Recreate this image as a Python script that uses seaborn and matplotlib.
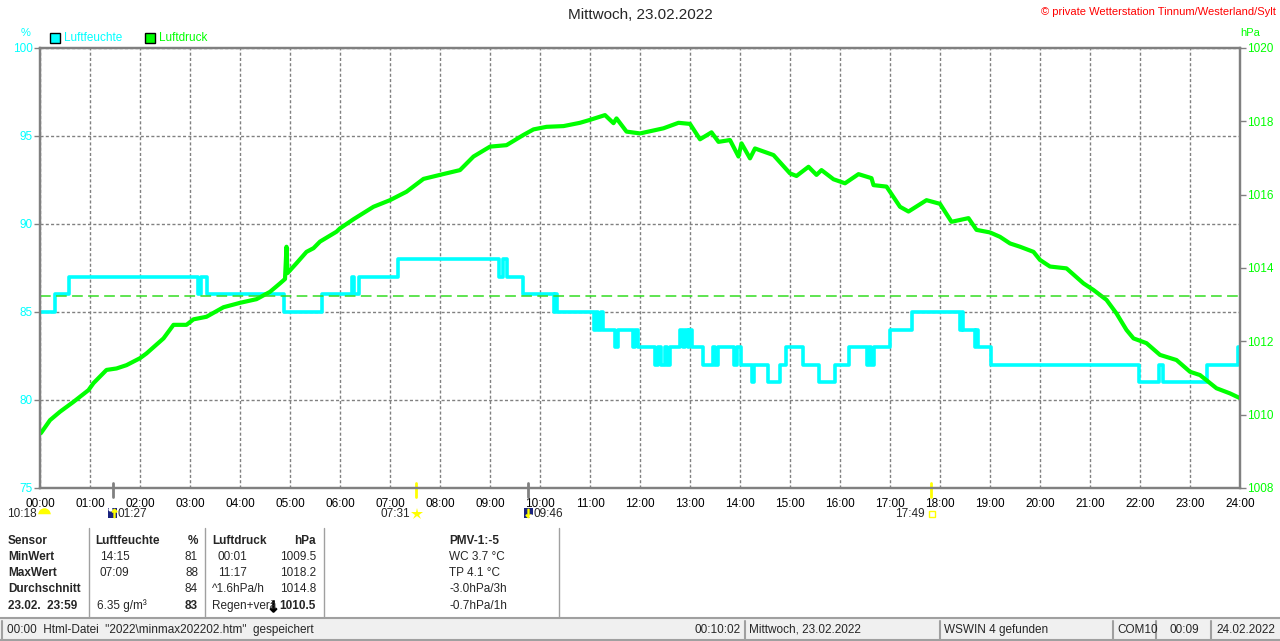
import pandas as pd
import seaborn as sns
import matplotlib.pyplot as plt
import matplotlib.transforms as mtransforms
from matplotlib.patches import Rectangle
from matplotlib.lines import Line2D

# Luftfeuchte (%) - Stufenwerte, Zeit in Stunden
hum_time = [0.00, 0.29, 0.57, 3.16, 3.22, 3.33, 4.88, 5.63, 6.23, 6.28, 6.37, 7.15,
            9.18, 9.25, 9.33, 9.65, 10.27, 10.30, 10.34, 11.07, 11.12, 11.16, 11.22,
            11.26, 11.50, 11.55, 11.85, 11.90, 11.96, 12.30, 12.36, 12.41, 12.50,
            12.53, 12.60, 12.80, 12.85, 12.90, 12.95, 12.98, 13.03, 13.25, 13.45,
            13.50, 13.56, 13.87, 13.93, 14.01, 14.23, 14.27, 14.55, 14.80, 14.91,
            15.25, 15.57, 15.90, 16.17, 16.53, 16.58, 16.62, 16.67, 17.00, 17.43,
            18.40, 18.43, 18.46, 18.70, 18.72, 18.76, 19.02, 21.98, 22.37, 22.45,
            23.34, 23.96, 24.00]
hum_val = [85, 86, 87, 86, 87, 86, 85, 86, 87, 86, 87, 88,
           87, 88, 87, 86, 85, 86, 85, 84, 85, 84, 85,
           84, 83, 84, 83, 84, 83, 82, 83, 82, 83,
           82, 83, 84, 83, 84, 83, 84, 83, 82, 83,
           82, 83, 82, 83, 82, 81, 82, 81, 82, 83,
           82, 81, 82, 83, 82, 83, 82, 83, 84, 85,
           84, 85, 84, 83, 84, 83, 82, 81, 82, 81,
           82, 83, 83]

# Luftdruck (hPa)
pres_time = [0.00, 0.02, 0.20, 0.40, 0.67, 0.97, 1.07, 1.33, 1.53, 1.73, 2.00, 2.13,
             2.47, 2.67, 2.93, 3.07, 3.33, 3.67, 4.00, 4.33, 4.60, 4.80, 4.90, 4.93,
             4.95, 5.13, 5.33, 5.47, 5.60, 5.93, 6.00, 6.27, 6.67, 7.00, 7.33, 7.67,
             8.00, 8.40, 8.67, 9.00, 9.33, 9.67, 9.87, 10.13, 10.47, 10.80, 11.00,
             11.30, 11.47, 11.53, 11.73, 12.00, 12.47, 12.77, 13.00, 13.20, 13.43,
             13.57, 13.80, 13.97, 14.03, 14.20, 14.30, 14.67, 15.00, 15.13, 15.37,
             15.53, 15.63, 15.87, 16.10, 16.37, 16.63, 16.67, 16.93, 17.20, 17.37,
             17.73, 18.00, 18.23, 18.57, 18.73, 19.00, 19.20, 19.40, 19.60, 19.87,
             20.00, 20.20, 20.53, 20.87, 21.07, 21.33, 21.53, 21.73, 21.87, 22.13,
             22.40, 22.73, 23.00, 23.20, 23.53, 23.80, 24.00]
pres_val = [1009.55, 1009.50, 1009.85, 1010.08, 1010.35, 1010.67, 1010.86, 1011.22,
            1011.26, 1011.35, 1011.54, 1011.67, 1012.08, 1012.45, 1012.45, 1012.60,
            1012.67, 1012.93, 1013.05, 1013.15, 1013.35, 1013.58, 1013.70, 1014.58,
            1013.86, 1014.13, 1014.44, 1014.54, 1014.72, 1014.99, 1015.08, 1015.33,
            1015.67, 1015.85, 1016.08, 1016.43, 1016.54, 1016.67, 1017.04, 1017.31,
            1017.35, 1017.63, 1017.78, 1017.85, 1017.87, 1017.96, 1018.04, 1018.17,
            1017.95, 1018.08, 1017.72, 1017.67, 1017.81, 1017.96, 1017.93, 1017.51,
            1017.70, 1017.44, 1017.49, 1017.04, 1017.40, 1016.99, 1017.26, 1017.08,
            1016.58, 1016.51, 1016.76, 1016.54, 1016.67, 1016.42, 1016.31, 1016.56,
            1016.45, 1016.26, 1016.22, 1015.67, 1015.54, 1015.85, 1015.75, 1015.26,
            1015.36, 1015.04, 1014.97, 1014.85, 1014.67, 1014.58, 1014.44, 1014.22,
            1014.04, 1013.99, 1013.58, 1013.40, 1013.13, 1012.76, 1012.31, 1012.08,
            1011.95, 1011.63, 1011.49, 1011.17, 1011.08, 1010.72, 1010.58, 1010.45]

norm_druck = 1013.25

# Mond / Sonne Auf- und Untergang (Stunden)
event_time = [1.45, 7.517, 9.767, 17.817]
event_color = ['#808080', '#ffff00', '#808080', '#ffff00']

hour_ticks = list(range(0, 25))
hour_labels = ['%02d:00' % h for h in hour_ticks]
hum_ticks = [75, 80, 85, 90, 95, 100]
pres_ticks = [1008, 1010, 1012, 1014, 1016, 1018, 1020]

CYAN = '#00ffff'
GREEN = '#00ff00'
GRAU = '#808080'

W, H = 1280, 641


def fx(x):
    return x / W


def fy(y):
    return 1 - y / H


sns.set_style('white')
plt.rcParams['font.family'] = ['Liberation Sans', 'DejaVu Sans']

fig = plt.figure(figsize=(12.8, 6.41), dpi=100)
ax = fig.add_axes([fx(40), fy(488), 1200 / W, 440 / H])
ax2 = ax.twinx()

df_h = pd.DataFrame({'Zeit': hum_time, 'Luftfeuchte': hum_val})
df_p = pd.DataFrame({'Zeit': pres_time, 'Luftdruck': pres_val})

sns.lineplot(data=df_h, x='Zeit', y='Luftfeuchte', ax=ax, color=CYAN,
             linewidth=2.6, drawstyle='steps-post', estimator=None)
sns.lineplot(data=df_p, x='Zeit', y='Luftdruck', ax=ax2, color=GREEN,
             linewidth=3.0, estimator=None)
ax2.axhline(norm_druck, color='#33dd22', lw=1.1, dashes=(7, 3.5))

ax.set_xlim(0, 24)
ax.set_ylim(75, 100)
ax2.set_ylim(1008, 1020)
ax.set_xticks(hour_ticks)
ax.set_xticklabels(hour_labels)
ax.set_yticks(hum_ticks)
ax.set_yticklabels([str(v) for v in hum_ticks])
ax2.set_yticks(pres_ticks)
ax2.set_yticklabels([str(v) for v in pres_ticks])
ax.set_xlabel('')
ax.set_ylabel('')
ax2.set_ylabel('')

ax.grid(True, color=GRAU, linestyle=(0, (2.2, 1.6)), linewidth=1)
ax2.grid(False)
ax.tick_params(axis='x', length=4, width=1, color=GRAU, labelsize=8.5, pad=3,
               labelcolor='black')
ax.tick_params(axis='y', length=4, width=1, color=GRAU, labelsize=8.5, pad=1,
               labelcolor=CYAN)
ax2.tick_params(axis='y', length=4, width=1, color=GRAU, labelsize=8.5, pad=1,
                labelcolor=GREEN)
for a in (ax, ax2):
    for s in a.spines.values():
        s.set_color(GRAU)
        s.set_linewidth(1.6)

# Markierungen auf der Zeitachse
trans = mtransforms.blended_transform_factory(ax.transData, ax.transAxes)
for t, c in zip(event_time, event_color):
    ax.plot([t, t], [0.012, -0.02], color=c, lw=2, transform=trans, clip_on=False)

# Beschriftungen oben
fig.text(0.5, fy(15), 'Mittwoch, 23.02.2022', ha='center', va='center', fontsize=11)
fig.text(fx(1276), fy(12), '\u00a9 private Wetterstation Tinnum/Westerland/Sylt',
         ha='right', va='center', fontsize=8, color='red')
fig.text(fx(26), fy(33), '%', ha='center', va='center', fontsize=8, color=CYAN)
fig.text(fx(1250), fy(33), 'hPa', ha='center', va='center', fontsize=8, color=GREEN)

# Legende
for x0, col, lab in [(50, CYAN, 'Luftfeuchte'), (145, GREEN, 'Luftdruck')]:
    fig.add_artist(Rectangle((fx(x0), fy(43)), 10 / W, 10 / H, facecolor=col,
                             edgecolor='black', lw=1, transform=fig.transFigure))
    fig.text(fx(x0 + 14), fy(38), lab, ha='left', va='center', fontsize=8.5, color=col)

# Sonne / Mond unter der Achse
fig.text(fx(37), fy(514), '10:18', ha='right', va='center', fontsize=8.5)
fig.add_artist(Line2D([fx(44)], [fy(514)], marker='o', markersize=9,
                      fillstyle='top', markerfacecolor='#ffff00',
                      markerfacecoloralt='white', markeredgewidth=0, lw=0,
                      transform=fig.transFigure))
fig.text(fx(118), fy(514), '01:27', ha='left', va='center', fontsize=8.5)
fig.add_artist(Rectangle((fx(108), fy(518)), 9 / W, 10 / H, facecolor='#1a237e',
                         edgecolor='none', transform=fig.transFigure))
fig.add_artist(Line2D([fx(113.5)], [fy(513)], marker=r'$\uparrow$', markersize=6,
                      color='#ffff00', lw=0, transform=fig.transFigure))
fig.add_artist(Line2D([fx(110)], [fy(509)], marker='o', markersize=3,
                      color='white', markeredgewidth=0, lw=0,
                      transform=fig.transFigure))
fig.text(fx(410), fy(514), '07:31', ha='right', va='center', fontsize=8.5)
fig.add_artist(Line2D([fx(417)], [fy(514)], marker='*', markersize=9,
                      color='#ffff00', markeredgewidth=0, lw=0,
                      transform=fig.transFigure))
fig.add_artist(Rectangle((fx(524), fy(518)), 9 / W, 10 / H, facecolor='#1a237e',
                         edgecolor='none', transform=fig.transFigure))
fig.add_artist(Line2D([fx(528)], [fy(513)], marker=r'$\downarrow$', markersize=6,
                      color='#ffff00', lw=0, transform=fig.transFigure))
fig.add_artist(Line2D([fx(531)], [fy(516)], marker='o', markersize=3,
                      color='white', markeredgewidth=0, lw=0,
                      transform=fig.transFigure))
fig.text(fx(534), fy(514), '09:46', ha='left', va='center', fontsize=8.5)
fig.text(fx(925), fy(514), '17:49', ha='right', va='center', fontsize=8.5)
fig.add_artist(Line2D([fx(932)], [fy(514)], marker='s', markersize=5,
                      fillstyle='none', color='#ffff00', lw=0,
                      transform=fig.transFigure))

# Tabelle unten
rows_y = [541, 557, 573, 589, 606]
col1 = ['Sensor', 'MinWert', 'MaxWert', 'Durchschnitt', '23.02.  23:59']
for y, s in zip(rows_y, col1):
    fig.text(fx(8), fy(y), s, ha='left', va='center', fontsize=8.5, weight='bold')

fig.text(fx(95), fy(rows_y[0]), 'Luftfeuchte', ha='left', va='center',
         fontsize=8.5, weight='bold')
fig.text(fx(100), fy(rows_y[1]), '14:15', ha='left', va='center', fontsize=8.5)
fig.text(fx(100), fy(rows_y[2]), '07:09', ha='left', va='center', fontsize=8.5)
fig.text(fx(97), fy(rows_y[4]), '6.35 g/m\u00b3', ha='left', va='center', fontsize=8.5)
col3 = ['%', '81', '88', '84', '83']
for i, (y, s) in enumerate(zip(rows_y, col3)):
    fig.text(fx(198), fy(y), s, ha='right', va='center', fontsize=8.5,
             weight='bold' if i in (0, 4) else 'normal')

fig.text(fx(212), fy(rows_y[0]), 'Luftdruck', ha='left', va='center',
         fontsize=8.5, weight='bold')
fig.text(fx(218), fy(rows_y[1]), '00:01', ha='left', va='center', fontsize=8.5)
fig.text(fx(218), fy(rows_y[2]), '11:17', ha='left', va='center', fontsize=8.5)
fig.text(fx(212), fy(rows_y[3]), '^1.6hPa/h', ha='left', va='center', fontsize=8.5)
fig.text(fx(212), fy(rows_y[4]), 'Regen+ver\u00e4', ha='left', va='center', fontsize=8.5)
fig.add_artist(Line2D([fx(273)], [fy(606)], marker=r'$\downarrow$', markersize=8,
                      color='black', lw=0, transform=fig.transFigure))
col5 = ['hPa', '1009.5', '1018.2', '1014.8', '1010.5']
for i, (y, s) in enumerate(zip(rows_y, col5)):
    fig.text(fx(316), fy(y), s, ha='right', va='center', fontsize=8.5,
             weight='bold' if i in (0, 4) else 'normal')

col6 = ['PMV-1:-5', 'WC 3.7 \u00b0C', 'TP 4.1 \u00b0C', '-3.0hPa/3h', '-0.7hPa/1h']
for i, (y, s) in enumerate(zip(rows_y, col6)):
    fig.text(fx(449), fy(y), s, ha='left', va='center', fontsize=8.5,
             weight='bold' if i == 0 else 'normal')

for x in [89, 205, 324, 559]:
    fig.add_artist(Line2D([fx(x), fx(x)], [fy(528), fy(617)], color='#a0a0a0',
                          lw=1, transform=fig.transFigure))

# Statusleiste
fig.add_artist(Rectangle((0, 0), 1, fy(619), facecolor='#f0f0f0', edgecolor='none',
                         transform=fig.transFigure))
fig.add_artist(Line2D([0, 1], [fy(618), fy(618)], color='#a0a0a0', lw=1.5,
                      transform=fig.transFigure))
fig.add_artist(Line2D([0, 1], [fy(640), fy(640)], color='#a0a0a0', lw=1.5,
                      transform=fig.transFigure))
for x in [2, 745, 940, 1113, 1156, 1211]:
    fig.add_artist(Line2D([fx(x), fx(x)], [fy(621), fy(639)], color='#a0a0a0',
                          lw=1.5, transform=fig.transFigure))
fig.text(fx(7), fy(630), '00:00  Html-Datei  "2022\\minmax202202.htm"  gespeichert',
         ha='left', va='center', fontsize=8.5)
fig.text(fx(741), fy(630), '00:10:02', ha='right', va='center', fontsize=8.5)
fig.text(fx(749), fy(630), 'Mittwoch, 23.02.2022', ha='left', va='center', fontsize=8.5)
fig.text(fx(944), fy(630), 'WSWIN 4 gefunden', ha='left', va='center', fontsize=8.5)
fig.text(fx(1117), fy(630), 'COM10', ha='left', va='center', fontsize=8.5)
fig.text(fx(1184), fy(630), '00:09', ha='center', va='center', fontsize=8.5)
fig.text(fx(1216), fy(630), '24.02.2022', ha='left', va='center', fontsize=8.5)

fig.savefig('out.png', dpi=100)
